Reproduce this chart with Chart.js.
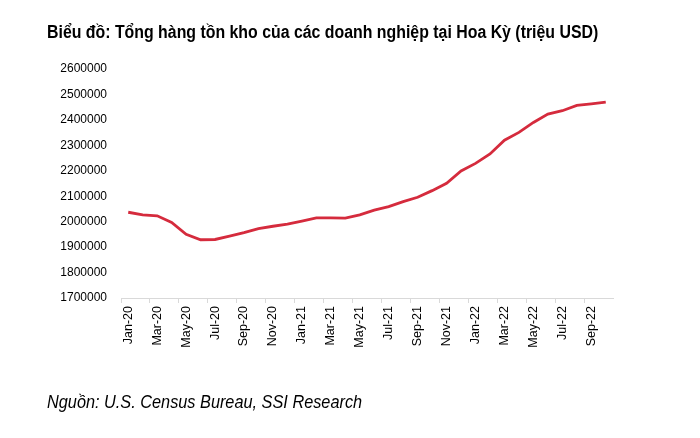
<!DOCTYPE html>
<html>
<head>
<meta charset="utf-8">
<script src="https://cdn.jsdelivr.net/npm/chart.js@4.4.0/dist/chart.umd.min.js"></script>
<style>
  html, body { margin: 0; padding: 0; background: #fff; }
  #wrap { position: relative; width: 700px; height: 438px; overflow: hidden; }
  #title { position: absolute; left: 47px; top: 22px; font-family: "Liberation Sans", Arial, sans-serif; font-weight: bold; font-size: 18px; color: #000; white-space: nowrap; transform: scaleX(0.882); transform-origin: 0 0; }
  #source { position: absolute; left: 47px; top: 392px; font-family: "Liberation Sans", Arial, sans-serif; font-style: italic; font-size: 18px; color: #000; white-space: nowrap; transform: scaleX(0.905); transform-origin: 0 0; }
  canvas { position: absolute; left: 0; top: 0; }
</style>
</head>
<body>
<div id="wrap">
  <canvas id="inventoryChart" width="700" height="438"></canvas>
  <div id="title">Biểu đồ: Tổng hàng tồn kho của các doanh nghiệp tại Hoa Kỳ (triệu USD)</div>
  <div id="source">Nguồn: U.S. Census Bureau, SSI Research</div>
</div>
<script>
// monthly, Jan-20 .. Oct-22
var months = ['Jan-20','Feb-20','Mar-20','Apr-20','May-20','Jun-20','Jul-20','Aug-20','Sep-20','Oct-20','Nov-20','Dec-20',
              'Jan-21','Feb-21','Mar-21','Apr-21','May-21','Jun-21','Jul-21','Aug-21','Sep-21','Oct-21','Nov-21','Dec-21',
              'Jan-22','Feb-22','Mar-22','Apr-22','May-22','Jun-22','Jul-22','Aug-22','Sep-22','Oct-22'];
var inventories = [2037000, 2027000, 2023000, 1997000, 1950000, 1929000, 1930000, 1943000, 1957000, 1973000, 1982000, 1990000,
                   2002000, 2015000, 2015000, 2014000, 2027000, 2045000, 2059000, 2079000, 2096000, 2122000, 2151000, 2199000,
                   2229000, 2266000, 2320000, 2351000, 2390000, 2423000, 2436000, 2457000, 2463000, 2470000];
var yMin = 1700000;
var yMax = 2600000;
var yStep = 100000;

var ctx = document.getElementById('inventoryChart').getContext('2d');
var chart = new Chart(ctx, {
    type: 'line',
    data: {
        labels: months,
        datasets: [{
            data: inventories,
            borderColor: '#d52b3d',
            borderWidth: 2.8,
            pointRadius: 0,
            tension: 0,
            fill: false
        }]
    },
    options: {
        responsive: false,
        animation: false,
        layout: { padding: { top: 69, left: 0, right: 87, bottom: 0 } },
        plugins: { legend: { display: false }, tooltip: { enabled: false } },
        scales: {
            x: {
                offset: true,
                grid: {
                    offset: true,
                    drawOnChartArea: false,
                    drawTicks: true,
                    tickLength: 5,
                    color: function (c) { return c.index % 2 === 0 ? '#d9d9d9' : 'rgba(0,0,0,0)'; }
                },
                border: { display: true, color: '#d9d9d9', width: 1 },
                ticks: {
                    autoSkip: false,
                    maxRotation: 90,
                    minRotation: 90,
                    padding: 3,
                    color: '#000',
                    font: { family: '"Liberation Sans", Arial, sans-serif', size: 12.5 },
                    callback: function (v, i) { return i % 2 === 0 ? months[i] : ''; }
                },
                afterFit: function (s) { s.height = 140; }
            },
            y: {
                min: yMin,
                max: yMax,
                grid: { display: false, drawTicks: false },
                border: { display: false },
                ticks: {
                    stepSize: yStep,
                    padding: 14,
                    color: '#000',
                    font: { family: '"Liberation Sans", Arial, sans-serif', size: 12 },
                    callback: function (v) { return String(v); }
                },
                afterFit: function (s) { s.width = 121; }
            }
        }
    }
});
</script>
</body>
</html>
